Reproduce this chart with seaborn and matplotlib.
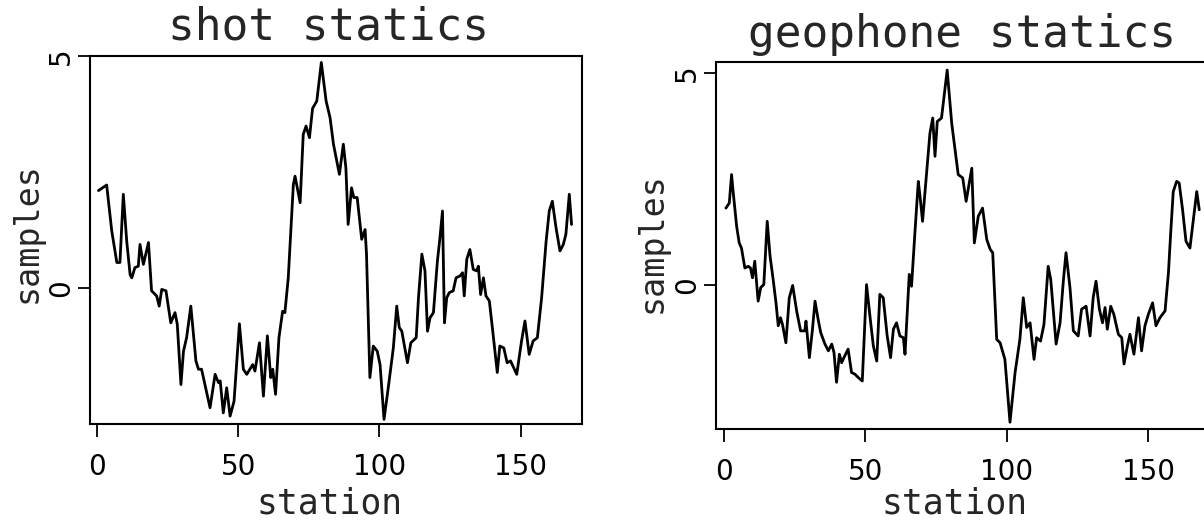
import matplotlib
matplotlib.use('Agg')
import matplotlib.pyplot as plt
import seaborn as sns

# Shot statics
shot_station = [0.5, 3.4, 5.2, 7.0, 8.1, 9.3, 10.5, 11.7, 12.3, 13.4,
                14.6, 15.2, 16.4, 18.2, 19.3, 21.1, 22.0, 22.9, 24.4, 26.1,
                27.6, 28.4, 29.7, 30.6, 31.7, 33.2, 35.0, 35.9, 37.0, 40.0,
                41.8, 43.0, 43.6, 44.7, 45.9, 47.1, 48.5, 50.4, 51.8, 53.0,
                55.1, 55.9, 57.5, 58.9, 60.3, 61.5, 62.2, 63.2, 64.4, 65.7,
                66.5, 67.7, 69.5, 70.1, 71.9, 73.0, 74.0, 75.2, 76.3, 77.8,
                79.4, 81.1, 82.5, 83.7, 85.8, 87.2, 88.1, 88.9, 90.1, 90.9,
                92.1, 93.7, 94.9, 95.4, 96.6, 97.8, 99.2, 100.2, 101.6, 103.1,
                104.9, 106.1, 107.0, 107.9, 109.9, 111.1, 113.0, 113.8, 115.0, 116.1,
                117.0, 117.9, 119.1, 120.5, 121.4, 122.3, 123.0, 123.8, 124.7, 126.1,
                127.1, 128.5, 129.4, 130.0, 130.9, 132.0, 133.2, 134.4, 135.0, 135.8,
                136.8, 137.7, 138.9, 140.1, 141.7, 142.6, 144.0, 145.2, 146.4, 148.6,
                150.3, 151.5, 153.0, 154.4, 155.9, 157.4, 159.0, 160.1, 161.2, 162.5,
                163.9, 165.1, 166.0, 167.2, 168.0]
shot_samples = [2.10, 2.22, 1.23, 0.55, 0.55, 2.02, 1.01, 0.29, 0.22, 0.44,
                0.47, 0.94, 0.51, 0.98, -0.06, -0.17, -0.39, -0.03, -0.06, -0.75,
                -0.53, -0.78, -2.08, -1.36, -1.07, -0.39, -1.57, -1.75, -1.75, -2.58,
                -1.86, -2.04, -2.00, -2.69, -2.15, -2.76, -2.44, -0.77, -1.75, -1.86,
                -1.65, -1.79, -1.18, -2.33, -1.03, -1.93, -1.75, -2.29, -1.07, -0.50,
                -0.53, 0.22, 2.23, 2.41, 1.84, 3.31, 3.49, 3.24, 3.87, 4.03,
                4.86, 4.03, 3.67, 3.10, 2.45, 3.10, 2.59, 1.37, 2.16, 1.95,
                1.95, 1.05, 1.26, 0.73, -1.93, -1.25, -1.36, -1.65, -2.83, -2.15,
                -1.29, -0.39, -0.85, -0.93, -1.61, -1.18, -1.07, -0.21, 0.73, 0.37,
                -0.93, -0.64, -0.53, 0.58, 1.08, 1.66, -0.75, -0.21, -0.10, -0.06,
                0.22, 0.26, 0.33, -0.17, 0.62, 0.83, 0.40, 0.37, 0.47, -0.14,
                0.22, -0.17, -0.28, -0.93, -1.82, -1.25, -1.29, -1.61, -1.57, -1.86,
                -1.14, -0.71, -1.43, -1.14, -1.07, -0.21, 1.01, 1.66, 1.87, 1.30,
                0.80, 0.94, 1.16, 2.02, 1.37]

# Geophone statics
geo_station = [0.7, 1.9, 2.7, 3.3, 4.5, 5.4, 6.2, 7.4, 8.6, 9.4,
               10.1, 10.9, 12.1, 13.0, 14.1, 15.3, 16.3, 17.4, 18.4, 19.2,
               20.0, 20.7, 21.9, 23.1, 24.3, 25.7, 27.1, 28.6, 29.0, 30.2,
               31.3, 32.2, 33.3, 34.2, 35.7, 36.9, 38.1, 38.9, 39.8, 40.8,
               41.6, 42.4, 43.9, 45.1, 46.3, 47.5, 48.9, 50.4, 51.6, 52.8,
               54.0, 55.1, 56.3, 57.7, 58.9, 59.9, 61.0, 62.2, 63.4, 64.0,
               65.5, 66.3, 67.5, 68.7, 69.3, 70.2, 71.6, 72.8, 73.8, 74.6,
               75.4, 76.9, 78.9, 80.5, 81.7, 82.8, 84.4, 85.6, 87.6, 88.5,
               89.9, 91.4, 92.9, 94.1, 95.0, 96.4, 97.6, 99.3, 101.1, 102.9,
               104.6, 105.8, 107.0, 108.2, 109.6, 110.5, 111.9, 113.1, 114.6, 115.5,
               117.4, 118.8, 120.0, 120.9, 122.3, 123.5, 125.2, 126.4, 128.0, 129.4,
               130.5, 131.5, 132.7, 133.8, 134.7, 135.5, 136.7, 137.8, 139.4, 140.6,
               141.4, 142.6, 143.5, 144.9, 146.5, 147.6, 148.8, 150.0, 151.5, 152.7,
               154.1, 155.9, 157.1, 157.9, 158.8, 160.0, 160.9, 162.1, 163.3, 164.7,
               165.9, 167.1, 168.0]
geo_samples = [1.82, 1.94, 2.61, 2.18, 1.39, 1.00, 0.88, 0.41, 0.45, 0.41,
               0.18, 0.57, -0.37, -0.05, 0.02, 1.51, 0.69, 0.14, -0.41, -0.95,
               -0.76, -0.92, -1.35, -0.29, 0.00, -0.60, -1.07, -1.07, -0.84, -1.70,
               -1.03, -0.37, -0.80, -1.11, -1.38, -1.54, -1.38, -1.58, -2.28, -1.62,
               -1.82, -1.70, -1.50, -2.05, -2.09, -2.17, -2.25, 0.02, -0.72, -1.42,
               -1.78, -0.21, -0.29, -1.19, -1.70, -1.03, -0.88, -1.19, -1.23, -1.62,
               0.26, -0.02, 1.24, 2.45, 2.10, 1.51, 2.64, 3.58, 3.94, 3.04,
               3.86, 3.94, 5.07, 3.82, 3.19, 2.61, 2.53, 1.98, 2.76, 1.00,
               1.63, 1.82, 1.08, 0.85, 0.77, -1.27, -1.35, -1.74, -3.22, -2.05,
               -1.27, -0.29, -0.99, -0.88, -1.74, -1.23, -1.31, -0.92, 0.45, 0.14,
               -1.38, -0.88, 0.14, 0.77, -0.05, -1.07, -1.19, -0.56, -0.49, -1.19,
               -0.29, 0.10, -0.56, -0.88, -0.52, -1.03, -0.49, -0.68, -1.15, -1.23,
               -1.85, -1.42, -1.15, -1.62, -0.76, -1.54, -0.95, -0.68, -0.41, -0.95,
               -0.76, -0.60, 0.30, 1.24, 2.21, 2.45, 2.41, 1.78, 1.04, 0.88,
               1.55, 2.21, 1.78]

x_ticks = [0, 50, 100, 150]
y_ticks = [0, 5]

sns.set_style('ticks')
plt.rcParams['font.family'] = ['DejaVu Sans Mono', 'DejaVu Sans']

W, H = 1204, 521
fig = plt.figure(figsize=(W / 100, H / 100), dpi=100)


def px(x, y):
    # pixel position in the picture -> figure fraction
    return x / W, 1 - y / H


ax1 = fig.add_axes([90 / W, 1 - 424 / H, 492 / W, 368 / H])
ax2 = fig.add_axes([716 / W, 1 - 429 / H, 494.6 / W, 367 / H])

sns.lineplot(x=shot_station, y=shot_samples, ax=ax1, color='black', linewidth=2)
sns.lineplot(x=geo_station, y=geo_samples, ax=ax2, color='black', linewidth=2)

ax1.set_xlim(-2.5, 171.7)
ax1.set_ylim(-2.93, 5.0)
ax2.set_xlim(-2.8, 172.0)
ax2.set_ylim(-3.38, 5.26)

for ax in (ax1, ax2):
    ax.set_xticks(x_ticks)
    ax.set_yticks(y_ticks)
    ax.set_xlabel('')
    ax.set_ylabel('')
    for sp in ax.spines.values():
        sp.set_visible(True)
        sp.set_linewidth(1.5)
        sp.set_color('black')
    ax.tick_params(axis='x', direction='out', length=9, width=1.3, pad=12,
                   labelsize=20, colors='black')
    ax.tick_params(axis='y', direction='out', length=9, width=1.3, pad=2,
                   labelsize=20, colors='black')
    for lab in ax.get_xticklabels():
        lab.set_family('DejaVu Sans')
    for lab in ax.get_yticklabels():
        lab.set_family('DejaVu Sans')
        lab.set_rotation(90)
        lab.set_va('center')
        lab.set_ha('right')

fig.text(*px(328, 40), 'shot statics', fontsize=32, ha='center', va='baseline')
fig.text(*px(962, 47), 'geophone statics', fontsize=32, ha='center', va='baseline')
fig.text(*px(330, 513), 'station', fontsize=25, ha='center', va='baseline')
fig.text(*px(955, 513), 'station', fontsize=25, ha='center', va='baseline')
fig.text(*px(27, 233), 'samples', fontsize=24, ha='center', va='center', rotation=90)
fig.text(*px(652, 243), 'samples', fontsize=24, ha='center', va='center', rotation=90)

fig.savefig('out.png', dpi=100)
